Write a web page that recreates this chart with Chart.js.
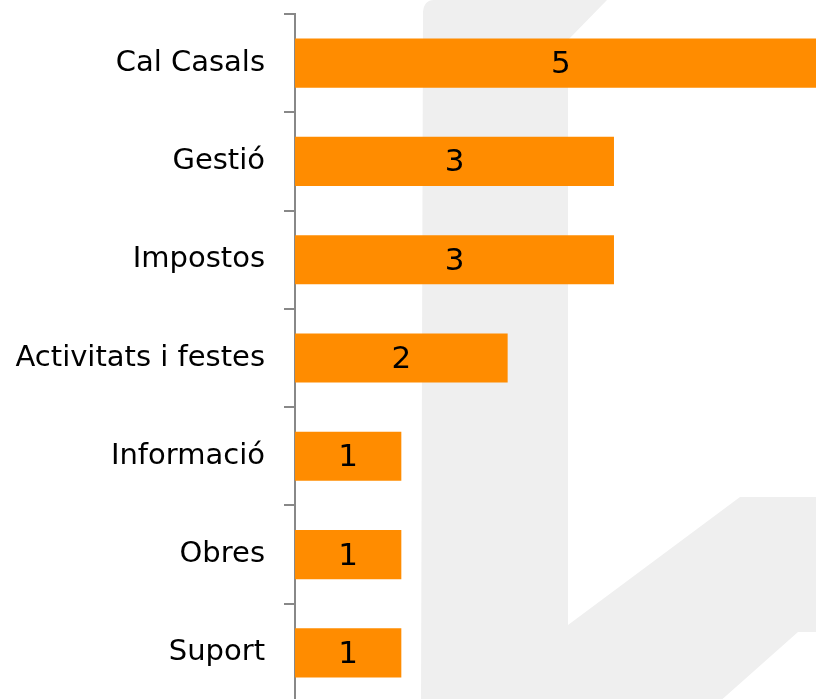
<!DOCTYPE html>
<html>
<head>
<meta charset="utf-8">
<script src="https://cdn.jsdelivr.net/npm/chart.js@4"></script>
<style>
  html,body{margin:0;padding:0;background:#fff;overflow:hidden;}
  #wrap{position:relative;width:816px;height:702px;}
</style>
</head>
<body>
<div id="wrap"><canvas id="chart_bar"></canvas></div>
<script>
// ---------- data ----------
const categories=['Cal Casals','Gestió','Impostos','Activitats i festes','Informació','Obres','Suport'];
const counts=[5,3,3,2,1,1,1];

const FONT="'DejaVu Sans', sans-serif";

// faint logo in the background
const watermark={
  id:'watermark',
  beforeDraw(chart){
    const c=chart.ctx;
    c.save();
    c.fillStyle='#efefef';
    c.beginPath();
    c.moveTo(423,12); c.quadraticCurveTo(424,0,434,0);
    c.lineTo(607,0); c.lineTo(568,40); c.lineTo(568,625);
    c.lineTo(740,497); c.lineTo(816,497); c.lineTo(816,632);
    c.lineTo(798,632); c.lineTo(718,703); c.lineTo(421,703);
    c.closePath(); c.fill();
    c.restore();
  }
};

// value labels centred in each bar
const barLabels={
  id:'barLabels',
  afterDatasetsDraw(chart){
    const c=chart.ctx, meta=chart.getDatasetMeta(0);
    c.save();
    c.font='31px '+FONT; c.fillStyle='#000';
    c.textAlign='center'; c.textBaseline='middle';
    meta.data.forEach((bar,i)=>{
      const p=bar.getProps(['x','y','base'],true);
      c.fillText(String(counts[i]),(p.x+p.base)/2,p.y+2);
    });
    c.restore();
  }
};

function makeBarChart(){
  const ctx=document.getElementById('chart_bar').getContext('2d');
  return new Chart(ctx,{
    type:'bar',
    data:{labels:categories,datasets:[{data:counts,backgroundColor:'#ff8c00',borderWidth:0,
      barPercentage:0.5,categoryPercentage:1}]},
    options:{
      indexAxis:'y',animation:false,responsive:true,maintainAspectRatio:false,
      layout:{padding:{top:14,right:0,bottom:0,left:0}},
      scales:{
        x:{display:false,min:0,max:4.9},
        y:{
          afterFit:(s)=>{s.width=295; s.paddingTop=0; s.paddingBottom=0;},
          border:{display:true,color:'#888',width:2},
          grid:{drawOnChartArea:false,drawTicks:true,tickLength:11,color:'#888',lineWidth:2,offset:true},
          ticks:{color:'#000',padding:19,font:{family:FONT,size:29}}
        }
      },
      plugins:{legend:{display:false},tooltip:{enabled:false}}
    },
    plugins:[watermark,barLabels]
  });
}
makeBarChart();
</script>
</body>
</html>
